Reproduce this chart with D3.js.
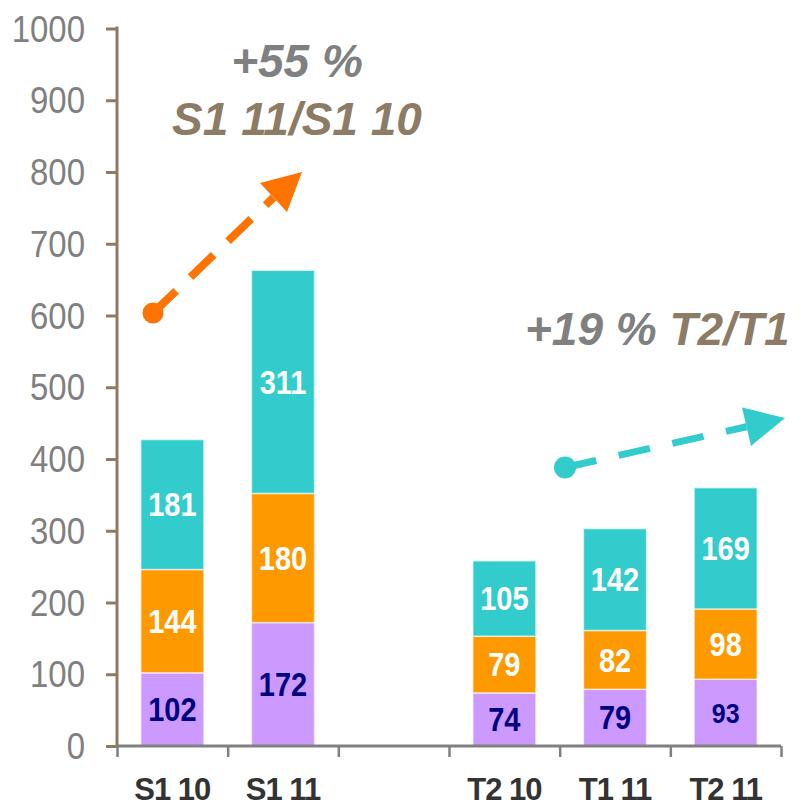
<!DOCTYPE html>
<html>
<head>
<meta charset="utf-8">
<script src="https://cdn.jsdelivr.net/npm/d3@7"></script>
<style>
  body { margin: 0; background: #fff; }
  svg { display: block; font-family: Arial, 'Liberation Sans', sans-serif; }
</style>
</head>
<body>
<div id="chart"></div>
<script>
// data
const categories = ['S1 10', 'S1 11', ' ', 'T2 10', 'T1 11', 'T2 11']
const barCategories = ['S1 10', 'S1 11', 'T2 10', 'T1 11', 'T2 11']
const baseValues = [102, 172, 74, 79, 93]
const middleValues = [144, 180, 79, 82, 98]
const topValues = [181, 311, 105, 142, 169]
const yTicks = [0, 100, 200, 300, 400, 500, 600, 700, 800, 900, 1000]

const width = 802
const height = 808
const colors = { base: '#CC99FF', middle: '#FF9900', top: '#33CCCC' }
const brown = '#8C7B65'
const grey = '#808080'
const stretch = 1.12 // source fonts look a bit taller than Arial

const svg = d3.select('#chart').append('svg').attr('width', width).attr('height', height)

const x = d3.scaleBand().domain(categories).range([117, 781]).paddingInner(0.43).paddingOuter(0.215)
const y = d3.scaleLinear().domain([0, 1000]).range([746, 28.5])

// stack the three series
const rows = barCategories.map((c, i) => ({ cat: c, base: baseValues[i], middle: middleValues[i], top: topValues[i] }))
const keys = ['base', 'middle', 'top']
const series = d3.stack().keys(keys)(rows)

const barGroup = svg.append('g').attr('class', 'bars')
series.forEach(s => {
  barGroup.selectAll(null)
    .data(s)
    .enter()
    .append('rect')
    .attr('x', d => x(d.data.cat))
    .attr('width', x.bandwidth())
    .attr('y', d => y(d[1]))
    .attr('height', d => y(d[0]) - y(d[1]))
    .attr('fill', colors[s.key])
    .attr('stroke', '#fff')
    .attr('stroke-opacity', 0.6)
    .attr('stroke-width', 1.5)
})

// value labels
const labelGroup = svg.append('g').attr('class', 'labels')
series.forEach(s => {
  labelGroup.selectAll(null)
    .data(s)
    .enter()
    .append('text')
    .attr('transform', d => `translate(${x(d.data.cat) + x.bandwidth() / 2}, ${y((d[0] + d[1]) / 2)}) scale(1, ${stretch})`)
    .attr('text-anchor', 'middle')
    .attr('dy', '0.36em')
    .attr('font-weight', 'bold')
    .attr('font-size', d => (s.key === 'base' && d.data.cat === 'T2 11') ? 25 : 29)
    .attr('fill', s.key === 'base' ? '#000080' : '#fff')
    .text(d => d[1] - d[0])
})

// y axis
const yAxisGroup = svg.append('g').attr('transform', 'translate(117, 0)')
yAxisGroup.call(d3.axisLeft(y).tickValues(yTicks).tickFormat(d3.format('d')).tickSize(11).tickPadding(21))
yAxisGroup.select('.domain').attr('stroke', brown).attr('stroke-width', 3).attr('d', `M0,${y(1000) - 2}V${y(0)}`)
yAxisGroup.selectAll('.tick line').attr('stroke', brown).attr('stroke-width', 3)
yAxisGroup.selectAll('.tick text')
  .attr('fill', grey)
  .attr('font-size', 33)
  .attr('font-family', 'Arial, Liberation Sans, sans-serif')
  .attr('transform', `scale(1, ${stretch})`)
  .attr('dy', '0.34em')

// x axis: line + boundary ticks
const bounds = d3.scaleLinear().domain([0, categories.length]).range(x.range())
const xAxisGroup = svg.append('g').attr('transform', `translate(0, ${y(0)})`)
xAxisGroup.call(d3.axisBottom(bounds).tickValues(d3.range(categories.length + 1)).tickSize(11).tickFormat(''))
xAxisGroup.select('.domain').attr('stroke', grey).attr('stroke-width', 3).attr('d', `M${x.range()[0]},0H${x.range()[1]}`)
xAxisGroup.selectAll('.tick line').attr('stroke', grey).attr('stroke-width', 2.5)

// x category labels
const xLabelGroup = svg.append('g').attr('transform', `translate(0, ${y(0)})`)
xLabelGroup.call(d3.axisBottom(x).tickSize(0))
xLabelGroup.select('.domain').remove()
xLabelGroup.selectAll('.tick text')
  .attr('y', 54)
  .attr('dy', 0)
  .attr('fill', '#333')
  .attr('font-size', 31)
  .attr('font-weight', 'bold')
  .attr('letter-spacing', -1)
  .attr('font-family', 'Arial, Liberation Sans, sans-serif')

// growth arrows
function arrow(from, tip, c1, c2, color, lw, dash, r) {
  const g = svg.append('g')
  const mid = [(c1[0] + c2[0]) / 2, (c1[1] + c2[1]) / 2]
  g.append('line')
    .attr('x1', from[0]).attr('y1', from[1])
    .attr('x2', mid[0]).attr('y2', mid[1])
    .attr('stroke', color)
    .attr('stroke-width', lw)
    .attr('stroke-dasharray', dash)
  g.append('circle').attr('cx', from[0]).attr('cy', from[1]).attr('r', r).attr('fill', color)
  g.append('path').attr('d', `M${tip}L${c1}L${c2}Z`).attr('fill', color)
}
arrow([153, 313], [302, 172], [260, 183], [287, 212], '#FF7300', 8, '32,20', 10.5)
arrow([565, 467.5], [785, 418], [742, 407.5], [751, 446], '#33CCCC', 7, '32,23', 11)

// annotations
const note = svg.append('g')
  .attr('font-size', 46)
  .attr('font-weight', 'bold')
  .attr('font-style', 'italic')
note.append('text').attr('x', 297).attr('y', 77).attr('text-anchor', 'middle').attr('fill', grey).text('+55 %')
note.append('text').attr('x', 297).attr('y', 135).attr('text-anchor', 'middle').attr('fill', brown).text('S1 11/S1 10')
const t2 = note.append('text').attr('x', 525).attr('y', 345)
t2.append('tspan').attr('fill', grey).text('+19 % ')
t2.append('tspan').attr('fill', brown).text('T2/T1')
</script>
</body>
</html>
